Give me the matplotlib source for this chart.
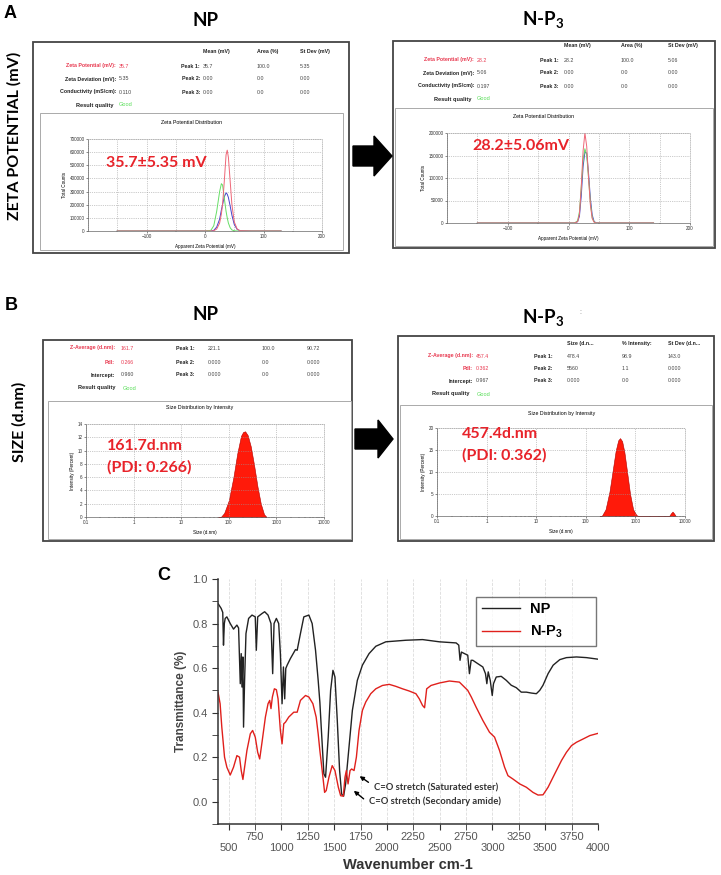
import numpy as np
import matplotlib
matplotlib.use("Agg")
import matplotlib.pyplot as plt
from matplotlib.patches import Rectangle, Polygon

plt.rcParams['font.family'] = ['Liberation Sans', 'DejaVu Sans']
plt.rcParams['mathtext.default'] = 'regular'

W, H = 721, 875

# ---- zeta potential distributions ----
zeta_x_np = [-150, 0, 10, 15, 20, 25, 28, 30, 33, 36, 38, 40, 43, 46, 50, 55, 60, 80, 130]
zeta_red_np = [0, 0, 0, 2000, 15000, 60000, 130000, 200000, 380000, 580000, 615000, 560000,
               380000, 200000, 70000, 15000, 2000, 0, 0]
zeta_green_np = [0, 0, 5000, 40000, 150000, 300000, 360000, 350000, 250000, 150000, 100000,
                 60000, 25000, 8000, 2000, 0, 0, 0, 0]
zeta_blue_np = [0, 0, 0, 5000, 30000, 90000, 160000, 200000, 260000, 290000, 280000, 255000,
                190000, 120000, 50000, 12000, 2000, 0, 0]

zeta_x_np3 = [-150, 0, 10, 15, 18, 21, 24, 27, 30, 33, 36, 39, 42, 45, 50, 60, 140]
zeta_red_np3 = [0, 0, 0, 3000, 20000, 80000, 160000, 200000, 170000, 100000, 40000, 10000,
                2000, 0, 0, 0, 0]
zeta_green_np3 = [0, 0, 0, 5000, 25000, 80000, 140000, 165000, 150000, 100000, 45000, 12000,
                  3000, 0, 0, 0, 0]
zeta_blue_np3 = [0, 0, 0, 3000, 15000, 60000, 125000, 158000, 155000, 110000, 55000, 18000,
                 4000, 500, 0, 0, 0]

# ---- size distributions by intensity ----
size_np = [60, 68, 80, 100, 125, 150, 180, 200, 220, 250, 290, 340, 400, 470, 550, 620]
inten_np = [0, 0, 0.6, 2.5, 6.0, 9.5, 12.2, 12.8, 12.9, 12.3, 10.6, 7.8, 4.6, 2.0, 0.4, 0]
size_np3 = [190, 210, 250, 300, 350, 400, 450, 490, 540, 600, 680, 780, 900, 1050, 1150,
            4800, 5200, 5600, 6000, 6500]
inten_np3 = [0, 0, 1.5, 5.5, 10.5, 14.8, 17.2, 17.7, 17.0, 14.5, 10.0, 5.0, 1.5, 0.2, 0,
             0, 0.6, 1.0, 0.6, 0]

# ---- instrument result tables ----
zeta_labels = ["Zeta Potential (mV):", "Zeta Deviation (mV):", "Conductivity (mS/cm):"]
zeta_headers = ["Mean (mV)", "Area (%)", "St Dev (mV)"]
zeta_np_values = ["35.7", "5.35", "0.110"]
zeta_np_peaks = [["35.7", "100.0", "5.35"], ["0.00", "0.0", "0.00"], ["0.00", "0.0", "0.00"]]
zeta_np3_values = ["28.2", "5.06", "0.197"]
zeta_np3_peaks = [["28.2", "100.0", "5.06"], ["0.00", "0.0", "0.00"], ["0.00", "0.0", "0.00"]]

size_labels = ["Z-Average (d.nm):", "PdI:", "Intercept:"]
size_headers = ["Size (d.n...", "% Intensity:", "St Dev (d.n..."]
size_np_values = ["161.7", "0.266", "0.960"]
size_np_peaks = [["221.1", "100.0", "90.72"], ["0.000", "0.0", "0.000"], ["0.000", "0.0", "0.000"]]
size_np3_values = ["457.4", "0.362", "0.967"]
size_np3_peaks = [["478.4", "98.9", "143.0"], ["5560", "1.1", "0.000"], ["0.000", "0.0", "0.000"]]

# ---- FTIR spectra ----
ftir_wn_np = [400, 430, 445, 452, 460, 468, 484, 516, 547, 579, 595, 611, 620, 627, 636, 642,
              652, 665, 690, 722, 753, 763, 776, 817, 842, 874, 902, 918, 931, 953, 975, 991,
              1007, 1020, 1032, 1042, 1055, 1086, 1134, 1150, 1181, 1213, 1261, 1292, 1324,
              1349, 1365, 1378, 1387, 1403, 1419, 1444, 1467, 1489, 1508, 1530, 1552, 1571,
              1590, 1609, 1641, 1673, 1720, 1768, 1831, 1895, 1990, 2180, 2338, 2497, 2656,
              2681, 2693, 2706, 2735, 2766, 2782, 2798, 2814, 2861, 2909, 2934, 2947, 2960,
              2979, 2998, 3010, 3036, 3083, 3131, 3178, 3226, 3273, 3321, 3368, 3416, 3448,
              3479, 3527, 3575, 3638, 3701, 3796, 3891, 4000]
ftir_t_np = [0.89, 0.868, 0.85, 0.703, 0.80, 0.823, 0.83, 0.80, 0.775, 0.793, 0.78, 0.53, 0.665,
             0.515, 0.65, 0.335, 0.545, 0.755, 0.823, 0.838, 0.83, 0.68, 0.83, 0.845, 0.853,
             0.838, 0.80, 0.575, 0.80, 0.823, 0.80, 0.665, 0.44, 0.605, 0.462, 0.598, 0.613,
             0.643, 0.683, 0.68, 0.755, 0.83, 0.838, 0.80, 0.68, 0.545, 0.447, 0.335, 0.26,
             0.125, 0.11, 0.29, 0.50, 0.59, 0.56, 0.365, 0.14, 0.035, 0.025, 0.08, 0.245, 0.41,
             0.545, 0.613, 0.665, 0.698, 0.718, 0.725, 0.728, 0.718, 0.713, 0.703, 0.635,
             0.672, 0.665, 0.658, 0.575, 0.635, 0.635, 0.62, 0.605, 0.575, 0.53, 0.583, 0.545,
             0.477, 0.53, 0.56, 0.563, 0.545, 0.523, 0.512, 0.492, 0.492, 0.488, 0.485, 0.50,
             0.523, 0.575, 0.613, 0.638, 0.647, 0.65, 0.647, 0.64]

ftir_wn_np3 = [400, 420, 436, 462, 484, 516, 547, 579, 604, 620, 636, 652, 674, 706, 728, 753,
               776, 795, 817, 849, 874, 890, 902, 915, 934, 953, 969, 991, 1007, 1023, 1039,
               1070, 1118, 1150, 1181, 1229, 1261, 1299, 1330, 1349, 1365, 1387, 1410, 1425,
               1451, 1482, 1508, 1540, 1562, 1587, 1603, 1616, 1632, 1651, 1666, 1689, 1711,
               1736, 1768, 1800, 1847, 1895, 1958, 2022, 2085, 2148, 2212, 2275, 2307, 2338,
               2357, 2377, 2418, 2497, 2592, 2687, 2766, 2800, 2845, 2909, 2972, 3020, 3067,
               3115, 3147, 3194, 3258, 3321, 3384, 3432, 3479, 3527, 3590, 3654, 3701, 3749,
               3796, 3860, 3923, 4000]
ftir_t_np3 = [0.492, 0.44, 0.335, 0.20, 0.155, 0.12, 0.155, 0.207, 0.20, 0.14, 0.10, 0.155,
              0.23, 0.305, 0.32, 0.29, 0.222, 0.192, 0.267, 0.38, 0.44, 0.455, 0.418, 0.47,
              0.507, 0.503, 0.462, 0.32, 0.26, 0.35, 0.357, 0.38, 0.402, 0.402, 0.455, 0.477,
              0.47, 0.44, 0.38, 0.305, 0.23, 0.14, 0.042, 0.05, 0.11, 0.162, 0.14, 0.065,
              0.027, 0.025, 0.11, 0.14, 0.08, 0.14, 0.147, 0.14, 0.20, 0.32, 0.41, 0.448, 0.485,
              0.507, 0.522, 0.527, 0.518, 0.507, 0.497, 0.485, 0.462, 0.432, 0.422, 0.507,
              0.522, 0.533, 0.542, 0.537, 0.50, 0.47, 0.425, 0.365, 0.312, 0.29, 0.23, 0.155,
              0.117, 0.102, 0.08, 0.065, 0.042, 0.03, 0.031, 0.065, 0.125, 0.185, 0.222, 0.252,
              0.267, 0.282, 0.297, 0.307]

RED = '#e8384f'
BIG_RED = '#e8232a'
GREEN = '#55dd55'
SMALL = 3.8

fig = plt.figure(figsize=(W / 100, H / 100), dpi=100)

# background canvas in pixel coordinates for boxes, tables and arrows
back = fig.add_axes([0, 0, 1, 1])
back.set_xlim(0, W)
back.set_ylim(H, 0)
back.axis('off')


def px_axes(x0, y0, x1, y1):
    return fig.add_axes([x0 / W, 1 - y1 / H, (x1 - x0) / W, (y1 - y0) / H])


def draw_table(x_lab, x_val, x_peak, cols, rows_y, q_y, q_x, good_x, labels, values, peaks,
               n_red, headers=None, head_y=None):
    for i in range(3):
        c = RED if i < n_red else '#222'
        back.text(x_lab, rows_y[i], labels[i], ha='right', va='center', fontsize=SMALL,
                  color=c, fontweight='bold')
        back.text(x_val, rows_y[i], values[i], ha='left', va='center', fontsize=SMALL,
                  color=c if i < n_red else '#444')
        back.text(x_peak, rows_y[i], f"Peak {i + 1}:", ha='right', va='center', fontsize=SMALL,
                  color='#222', fontweight='bold')
        for cx, v in zip(cols, peaks[i]):
            back.text(cx, rows_y[i], v, ha='left', va='center', fontsize=SMALL, color='#444')
    back.text(q_x, q_y, "Result quality", ha='right', va='center', fontsize=SMALL + 0.3,
              color='#222', fontweight='bold')
    back.text(good_x, q_y, "Good", ha='left', va='center', fontsize=SMALL + 0.3, color=GREEN)
    if headers:
        for cx, h in zip(cols, headers):
            back.text(cx, head_y, h, ha='left', va='center', fontsize=SMALL, color='#222',
                      fontweight='bold')


def boxes(outer, inner):
    x0, y0, x1, y1 = outer
    back.add_patch(Rectangle((x0, y0), x1 - x0, y1 - y0, fill=False, ec='#444', lw=1.3))
    x0, y0, x1, y1 = inner
    back.add_patch(Rectangle((x0, y0), x1 - x0, y1 - y0, fill=False, ec='#aaa', lw=0.7))


def style_instrument(ax):
    ax.set_facecolor('none')
    ax.tick_params(labelsize=3.3, length=1.5, width=0.4, pad=1, colors='#333')
    ax.tick_params(which='minor', length=1, width=0.3)
    for s in ax.spines.values():
        s.set_linewidth(0.5)
        s.set_color('#aaa')
        s.set_linestyle(':')
    for s in ['left', 'bottom']:
        ax.spines[s].set_linestyle('-')
        ax.spines[s].set_color('#666')
    ax.grid(True, which='both', ls=':', lw=0.5, color='#999')


def zeta_plot(ax, x, red, green, blue, ymax, ystep):
    ax.plot(x, blue, color='#4444cc', lw=0.7)
    ax.plot(x, green, color='#66dd66', lw=0.7)
    ax.plot(x, red, color='#ee6677', lw=0.7)
    ax.set_xlim(-200, 200)
    ax.set_ylim(0, ymax)
    ax.set_xticks([-100, 0, 100, 200])
    ax.set_xticks(np.arange(-200, 201, 50), minor=True)
    ax.set_yticks(np.arange(0, ymax + 1, ystep))
    ax.ticklabel_format(axis='y', style='plain')
    ax.set_xlabel("Apparent Zeta Potential (mV)", fontsize=3.3, labelpad=3)
    ax.set_ylabel("Total Counts", fontsize=3.3, labelpad=2)
    style_instrument(ax)


def size_plot(ax, size, inten, ymax, ystep):
    ax.fill_between(size, inten, color='#ff1a0a', edgecolor='#b00000', lw=0.4)
    ax.set_xscale('log')
    ax.set_xlim(0.1, 10000)
    ax.set_ylim(0, ymax)
    ax.set_xticks([0.1, 1, 10, 100, 1000, 10000], ["0.1", "1", "10", "100", "1000", "10000"])
    ax.set_yticks(np.arange(0, ymax + 0.1, ystep))
    ax.set_xlabel("Size (d.nm)", fontsize=3.3, labelpad=3)
    ax.set_ylabel("Intensity (Percent)", fontsize=3.3, labelpad=2)
    style_instrument(ax)
    ax.grid(False, which='minor')


# ---------------- panel A: zeta potential ----------------
boxes((33, 42, 349, 253), (40, 113, 343, 250))
draw_table(116, 119, 200, [203, 257, 300], [66, 79, 92], 105, 113, 119, zeta_labels,
           zeta_np_values, zeta_np_peaks, 1, zeta_headers, 51)
back.text(192, 122, "Zeta Potential Distribution", ha='center', va='center', fontsize=SMALL)
zeta_plot(px_axes(88, 139, 322, 231), zeta_x_np, zeta_red_np, zeta_green_np, zeta_blue_np,
          700000, 100000)

boxes((393, 41, 715, 248), (395, 108, 713, 246))
draw_table(474, 477, 559, [564, 621, 668], [60, 73, 86], 99, 472, 477, zeta_labels,
           zeta_np3_values, zeta_np3_peaks, 1, zeta_headers, 45)
back.text(544, 117, "Zeta Potential Distribution", ha='center', va='center', fontsize=SMALL)
zeta_plot(px_axes(447, 133, 690, 223), zeta_x_np3, zeta_red_np3, zeta_green_np3,
          zeta_blue_np3, 200000, 50000)

# ---------------- panel B: size ----------------
boxes((43, 340, 352, 541), (48, 401, 351, 539))
draw_table(115, 121, 195, [208, 262, 307], [348, 362, 375], 388, 115, 123, size_labels,
           size_np_values, size_np_peaks, 2)
back.text(200, 408, "Size Distribution by Intensity", ha='center', va='center', fontsize=SMALL)
size_plot(px_axes(86, 424, 324, 517), size_np, inten_np, 14, 2)

boxes((398, 336, 714, 541), (400, 405, 712, 539))
draw_table(473, 476, 553, [567, 622, 668], [356, 368, 381], 394, 470, 477, size_labels,
           size_np3_values, size_np3_peaks, 2, size_headers, 344)
back.text(562, 413, "Size Distribution by Intensity", ha='center', va='center', fontsize=SMALL)
size_plot(px_axes(437, 428, 685, 516), size_np3, inten_np3, 20, 5)

# block arrows between the two columns
back.add_patch(Polygon([(353, 146), (374, 146), (374, 136), (392, 156), (374, 176), (374, 166),
                        (353, 166)], closed=True, color='black'))
back.add_patch(Polygon([(355, 429), (378, 429), (378, 420), (393, 439), (378, 458), (378, 449),
                        (355, 449)], closed=True, color='black'))

# ---------------- panel C: FTIR ----------------
ax = px_axes(218, 579, 598, 824)
ax.plot(ftir_wn_np, ftir_t_np, color='#222', lw=1.0, label='NP')
ax.plot(ftir_wn_np3, ftir_t_np3, color='#e0201c', lw=1.0, label='N-P$_3$')
ax.set_xlim(400, 4000)
ax.set_ylim(-0.1, 1.0)
ax.spines['top'].set_visible(False)
ax.spines['right'].set_visible(False)
for s in ['left', 'bottom']:
    ax.spines[s].set_color('#333')
    ax.spines[s].set_linewidth(1.1)
major = [500, 1000, 1500, 2000, 2500, 3000, 3500, 4000]
minor = [750, 1250, 1750, 2250, 2750, 3250, 3750]
ax.set_xticks(major, [str(v) for v in major])
ax.set_xticks(minor, [str(v) for v in minor], minor=True)
ax.tick_params(axis='x', which='major', pad=10, length=4, labelsize=8, colors='#555')
ax.tick_params(axis='x', which='minor', pad=1.5, length=4, labelsize=8, colors='#555')
ax.set_yticks([0.0, 0.2, 0.4, 0.6, 0.8, 1.0], ["0.0", "0.2", "0.4", "0.6", "0.8", "1.0"])
ax.set_yticks([-0.1, 0.1, 0.3, 0.5, 0.7, 0.9], minor=True)
ax.tick_params(axis='y', which='both', length=4, labelsize=8, colors='#555')
ax.tick_params(color='#333', which='both')
ax.grid(True, axis='x', which='both', ls='--', lw=0.6, color='#dcdcdc')
ax.set_axisbelow(True)
ax.set_ylabel("Transmittance (%)", fontsize=8.5, fontweight='bold', color='#444', labelpad=4)
ax.set_xlabel("Wavenumber cm-1", fontsize=10.5, fontweight='bold', color='#333', labelpad=3)
leg = ax.legend(loc='lower left', bbox_to_anchor=(0.679, 0.7265, 0.316, 0.192), mode='expand',
                borderaxespad=0, fancybox=False, edgecolor='#555', handlelength=2.6,
                handletextpad=0.7, prop={'weight': 'bold', 'size': 10.5})
leg.get_frame().set_linewidth(1.0)

ax.annotate("", xy=(1720, 0.122), xytext=(1847, 0.080),
            arrowprops=dict(arrowstyle='-|>', color='black', lw=1.0, mutation_scale=6))
ax.annotate("", xy=(1666, 0.057), xytext=(1800, 0.005),
            arrowprops=dict(arrowstyle='-|>', color='black', lw=1.0, mutation_scale=6))
ax.text(1879, 0.061, "C=O stretch (Saturated ester)", fontsize=6.8, fontweight='bold',
        family='Lato', color='#333', va='center')
ax.text(1831, 0.0, "C=O stretch (Secondary amide)", fontsize=6.8, fontweight='bold',
        family='Lato', color='#333', va='center')

# ---------------- front layer: titles, labels, big values ----------------
front = fig.add_axes([0, 0, 1, 1], zorder=10)
front.set_xlim(0, W)
front.set_ylim(H, 0)
front.axis('off')

front.text(10, 13, "A", fontsize=13, fontweight='bold', va='center', ha='center')
front.text(11, 306, "B", fontsize=13, fontweight='bold', va='center', ha='center')
front.text(164, 575, "C", fontsize=13, fontweight='bold', va='center', ha='center')
front.text(14, 136, "ZETA POTENTIAL (mV)", rotation=90, fontsize=11.5, fontweight='bold',
           family='Lato', ha='center', va='center')
front.text(19, 422, "SIZE (d.nm)", rotation=90, fontsize=11.5, fontweight='bold',
           family='Lato', ha='center', va='center')

for x, y, t in [(205, 20, "NP"), (543, 20, "N-P$_3$"), (205, 314, "NP"), (543, 317, "N-P$_3$")]:
    front.text(x, y, t, fontsize=13.5, fontweight='bold', family='Lato', ha='center', va='center')
front.text(580, 312, ":", fontsize=5, color='#777', ha='center', va='center')

big = dict(fontsize=11.5, fontweight='bold', family='Lato', color=BIG_RED, va='center')
front.text(106, 163, "35.7±5.35 mV", **big)
front.text(472, 146, "28.2±5.06mV", **big)
front.text(107, 446, "161.7d.nm", **big)
front.text(107, 467, "(PDI: 0.266)", **big)
front.text(462, 434, "457.4d.nm", **big)
front.text(462, 455, "(PDI: 0.362)", **big)

fig.savefig("out.png", dpi=100)
